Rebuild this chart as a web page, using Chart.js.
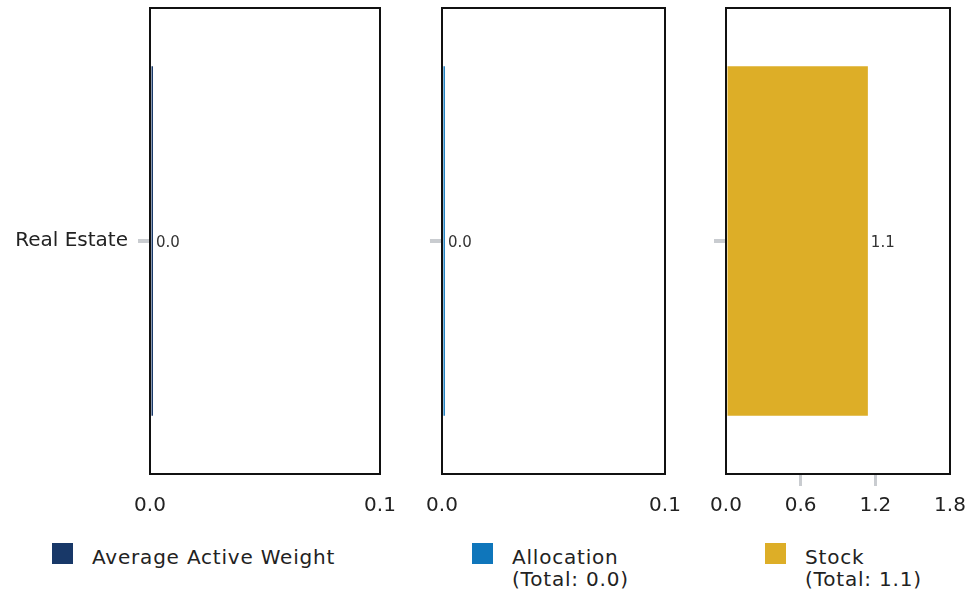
<!DOCTYPE html>
<html>
<head>
<meta charset="utf-8">
<script src="https://cdn.jsdelivr.net/npm/chart.js@4"></script>
<style>
  html,body{margin:0;padding:0;background:#fff;}
  body{width:966px;height:593px;position:relative;overflow:hidden;font-family:"DejaVu Sans",sans-serif;}
  .box{position:absolute;top:0;height:530px;}
  .sq{position:absolute;top:543px;width:21px;height:21px;}
  .lt{position:absolute;top:546px;color:#222;font-size:20px;line-height:22px;white-space:nowrap;letter-spacing:0.8px;}
</style>
</head>
<body>
<div class="box" style="left:0;width:400px;"><canvas id="c1"></canvas></div>
<div class="box" style="left:400px;width:280px;"><canvas id="c2"></canvas></div>
<div class="box" style="left:680px;width:286px;"><canvas id="c3"></canvas></div>
<div id="legend"></div>
<script>
const categories = ["Real Estate"];
const avgActiveWeight = [0.0013];
const allocation = [0.0013];
const stock = [1.14];
const seriesNames = ["Average Active Weight", "Allocation", "Stock"];
const legendSub = ["", "(Total: 0.0)", "(Total: 1.1)"];
const colors = ["#183868", "#0f76bb", "#ddae27"];
const axisMax = [0.1, 0.1, 1.8];
const axisStep = [0.1, 0.1, 0.6];

const FONT = "DejaVu Sans";

const frame = {
  id: 'frame',
  afterDatasetsDraw(chart) {
    const a = chart.chartArea, ctx = chart.ctx;
    ctx.save();
    ctx.strokeStyle = '#111';
    ctx.lineWidth = 2;
    ctx.strokeRect(a.left, a.top, a.right - a.left, a.bottom - a.top);
    ctx.restore();
  }
};
const valueLabels = {
  id: 'valueLabels',
  afterDraw(chart) {
    const ctx = chart.ctx;
    ctx.save();
    ctx.font = "15px '" + FONT + "'";
    ctx.fillStyle = '#333';
    ctx.textBaseline = 'middle';
    ctx.textAlign = 'left';
    chart.data.datasets.forEach((ds, di) => {
      chart.getDatasetMeta(di).data.forEach((el, i) => {
        ctx.fillText(ds.data[i].toFixed(1), el.x + 3, el.y + 2);
      });
    });
    ctx.restore();
  }
};

function make(id, idx, data, yWidth, showY, rightPad) {
  return new Chart(document.getElementById(id), {
    type: 'bar',
    data: {
      labels: categories,
      datasets: [{
        label: seriesNames[idx],
        data: data,
        backgroundColor: colors[idx],
        borderWidth: 0,
        categoryPercentage: 0.75,
        barPercentage: 1.0
      }]
    },
    options: {
      indexAxis: 'y',
      responsive: true,
      maintainAspectRatio: false,
      animation: false,
      layout: { padding: { top: 8, right: rightPad, left: 0, bottom: 0 } },
      plugins: { legend: { display: false }, tooltip: { enabled: false } },
      scales: {
        x: {
          min: 0, max: axisMax[idx],
          afterBuildTicks(s) {
            const t = [];
            for (let v = 0; v <= axisMax[idx] + 1e-9; v += axisStep[idx]) t.push({ value: +v.toFixed(4) });
            s.ticks = t;
          },
          afterFit(s) { s.height = 56; s.paddingLeft = 0; s.paddingRight = 0; },
          border: { display: false },
          grid: {
            drawOnChartArea: false,
            drawTicks: true,
            tickLength: 12,
            lineWidth: 3,
            color: (c) => (c.index === 0 || c.index === c.scale.ticks.length - 1) ? 'rgba(0,0,0,0)' : '#c9ccd0'
          },
          ticks: {
            padding: 8,
            color: '#222',
            font: { family: FONT, size: 20 },
            callback: (v) => Number(v).toFixed(1),
            maxRotation: 0,
            autoSkip: false
          }
        },
        y: {
          afterFit(s) { s.width = yWidth; s.paddingTop = 0; s.paddingBottom = 0; },
          border: { display: false },
          grid: {
            offset: false,
            drawOnChartArea: false,
            drawTicks: true,
            tickLength: 12,
            lineWidth: 4,
            color: '#c9ccd0'
          },
          ticks: {
            display: showY,
            padding: 10,
            color: '#222',
            font: { family: FONT, size: 20 }
          }
        }
      }
    },
    plugins: [frame, valueLabels]
  });
}

make('c1', 0, avgActiveWeight, 150, true, 20);
make('c2', 1, allocation, 42, false, 15);
make('c3', 2, stock, 46, false, 16);

const legPos = [[52, 92], [472, 512], [765, 805]];
const lg = document.getElementById('legend');
seriesNames.forEach((n, i) => {
  const sq = document.createElement('div');
  sq.className = 'sq';
  sq.style.left = legPos[i][0] + 'px';
  sq.style.background = colors[i];
  lg.appendChild(sq);
  const t = document.createElement('div');
  t.className = 'lt';
  t.style.left = legPos[i][1] + 'px';
  t.innerHTML = n + (legendSub[i] ? '<br>' + legendSub[i] : '');
  lg.appendChild(t);
});
</script>
</body>
</html>
